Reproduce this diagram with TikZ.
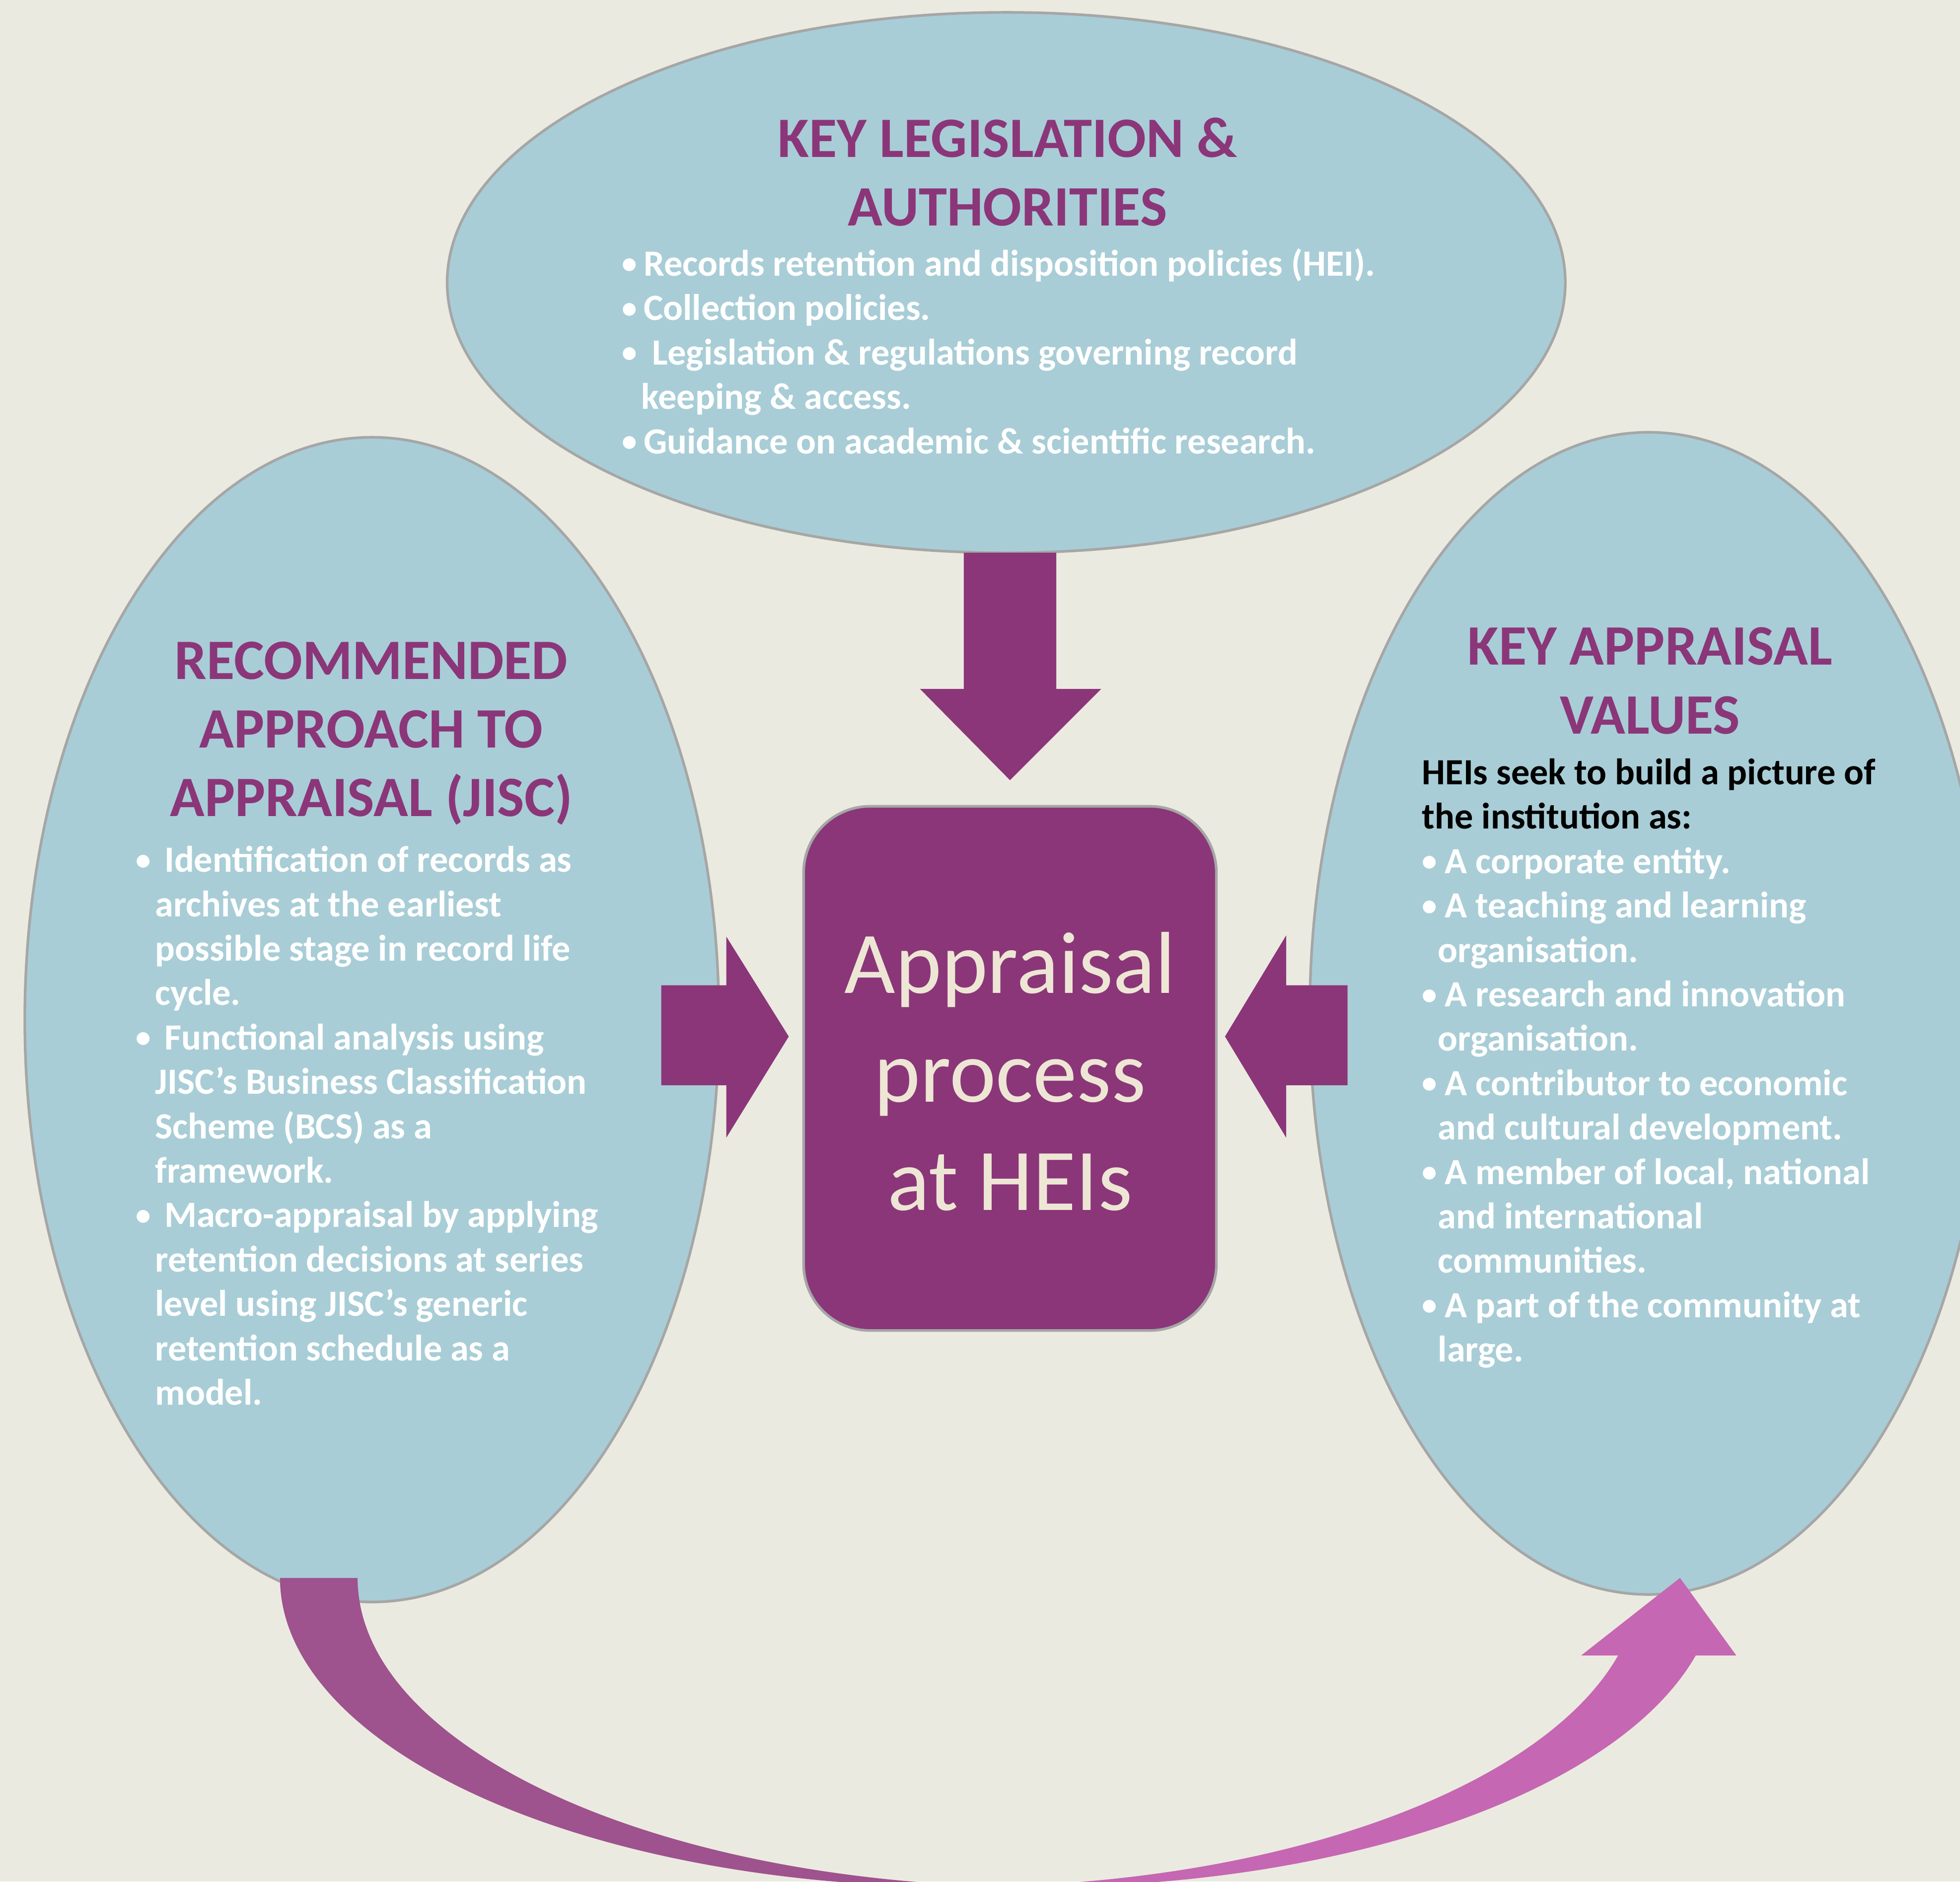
\documentclass[tikz,border=0pt]{standalone}
\usepackage{fontspec}
\usepackage{graphicx}
\setmainfont{Carlito}
\usetikzlibrary{shapes.geometric}

\definecolor{bgcol}{HTML}{EBEAE0}
\definecolor{blobfill}{HTML}{A8CDD6}
\definecolor{blobline}{HTML}{A6A6A6}
\definecolor{plum}{HTML}{8B3679}
\definecolor{cream}{HTML}{EEE6D5}
\definecolor{loopA}{HTML}{9E528E}
\definecolor{loopB}{HTML}{C567B2}

\newcommand{\bul}{\makebox[4.9pt][l]{\raisebox{0.5pt}{\scalebox{0.82}{\textbullet}}}}
\newcommand{\cont}[1][4.4pt]{\hspace*{#1}}

\tikzset{
  blob/.style={ellipse, draw=blobline, line width=0.6pt, fill=blobfill, inner sep=0pt},
  headtext/.style={font=\fontsize{13}{15.6}\selectfont\bfseries, text=plum, align=center, inner sep=0pt},
  bodytext/.style={font=\fontsize{8.4}{10.1}\selectfont\bfseries, text=white, align=left, inner sep=0pt, anchor=north west},
  loopE/.style={x radius=5.44cm, y radius=2.47cm},
}

\begin{document}
\begin{tikzpicture}[x=0.01cm, y=0.01cm]

\useasboundingbox (0, 0) rectangle (1568, -1505);
\clip (0, 0) rectangle (1568, -1505);
\fill[bgcol] (0, 0) rectangle (1568, -1505);

% the three ellipses
\node[blob, minimum width=8.94cm, minimum height=4.32cm] (legis) at (805, -226) {};
\node[blob, minimum width=5.55cm, minimum height=9.31cm] (approach) at (297.5, -815.5) {};
\node[blob, minimum width=5.42cm, minimum height=9.29cm] (values) at (1319, -810.5) {};

% centre box
\node[draw=blobline, line width=0.6pt, fill=plum, rounded corners=0.53cm,
      minimum width=3.3cm, minimum height=4.19cm] (proc) at (808, -854.5) {};
\node[font=\fontsize{20}{24.7}\selectfont, text=cream, align=center] (proctext) at (808, -857)
  {Appraisal\\process\\at HEIs};

% block arrows into the box
\fill[plum] (771, -442) -- (845, -442) -- (845, -551) -- (881, -551) -- (808, -624) -- (736, -551) -- (771, -551) -- cycle;
\fill[plum] (529, -788) -- (581, -788) -- (581, -749) -- (631, -829) -- (581, -910) -- (581, -868) -- (529, -868) -- cycle;
\fill[plum] (1078, -788) -- (1029, -788) -- (1029, -748) -- (980, -829) -- (1029, -910) -- (1029, -868) -- (1078, -868) -- cycle;

% curved arrow under the box: two crescents between shifted ellipses
\fill[loopA] (224, -1262) arc[loopE, start angle=180, end angle=273.27]
  arc[loopE, start angle=266.73, end angle=180] -- cycle;
\fill[loopB] (1294.6, -1324) -- (1265, -1324) -- (1344, -1262) -- (1389, -1324) -- (1356.6, -1324)
  arc[loopE, start angle=345.46, end angle=266.73]
  arc[loopE, start angle=273.27, end angle=345.46] -- cycle;

% titles
\node[headtext] (legishead) at (806, -137.5) {KEY LEGISLATION \&\\AUTHORITIES};
\node[headtext] (approachhead) at (297, -586.5) {RECOMMENDED\\APPROACH TO\\APPRAISAL (JISC)};
\node[headtext] (valueshead) at (1320, -544.5) {KEY APPRAISAL\\VALUES};

% bullet texts
\node[bodytext] (legisbody) at (497, -198) {\bul Records retention and disposition policies (HEI).\\
\bul Collection policies.\\
\bul\ Legislation \& regulations governing record\\
\cont keeping \& access.\\
\bul Guidance on academic \& scientific research.};

\node[bodytext] (approachbody) at (108, -676) {\bul\hspace{1.6pt}Identification of records as\\
\cont archives at the earliest\\
\cont possible stage in record life\\
\cont cycle.\\
\bul\hspace{1.6pt}Functional analysis using\\
\cont JISC’s Business Classification\\
\cont Scheme (BCS) as a\\
\cont framework.\\
\bul\hspace{1.6pt}Macro-appraisal by applying\\
\cont retention decisions at series\\
\cont level using JISC’s generic\\
\cont retention schedule as a\\
\cont model.};

\node[bodytext] (valuesbody) at (1137, -606) {\textcolor{black}{HEIs seek to build a picture of}\\
\textcolor{black}{the institution as:}\\
\bul\hspace{0.3pt}A corporate entity.\\
\bul\hspace{0.3pt}A teaching and learning\\
\cont[3.6pt]organisation.\\
\bul\hspace{0.3pt}A research and innovation\\
\cont[3.6pt]organisation.\\
\bul\hspace{0.3pt}A contributor to economic\\
\cont[3.6pt]and cultural development.\\
\bul\hspace{0.3pt}A member of local, national\\
\cont[3.6pt]and international\\
\cont[3.6pt]communities.\\
\bul\hspace{0.3pt}A part of the community at\\
\cont[3.6pt]large.};

\end{tikzpicture}
\end{document}
